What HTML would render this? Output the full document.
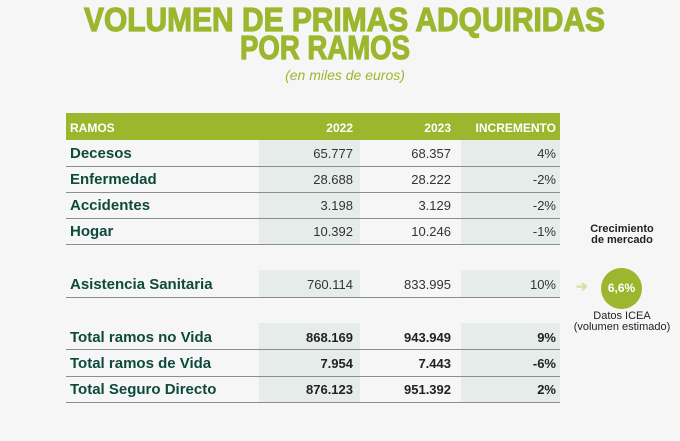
<!DOCTYPE html>
<html><head><meta charset="utf-8"><style>
body{margin:0;background:#f6f6f6;}
#w{position:relative;width:680px;height:441px;overflow:hidden;background:#f6f6f6;font-family:"Liberation Sans",sans-serif;}
.a{position:absolute;}
.shade{position:absolute;background:#e6ecea;}
.hd{position:absolute;left:66px;top:113px;width:494px;height:27px;background:#9cb62e;}
.line{position:absolute;left:66px;width:494px;height:1px;background:#8a8f8c;}
.lab{position:absolute;left:70px;font-weight:bold;color:#0e4a3c;font-size:15px;}
.n{position:absolute;color:#333;font-size:13px;text-align:right;}
.b{font-weight:bold;color:#222;}
.h{position:absolute;top:121px;color:#fff;font-weight:bold;font-size:12px;}
</style></head><body><div id="w">
<svg class="a" style="left:0;top:0" width="680" height="90">
<text x="84" y="31" textLength="521" lengthAdjust="spacingAndGlyphs" font-family="Liberation Sans" font-weight="bold" font-size="33" fill="#9cb62e" stroke="#9cb62e" stroke-width="1.2">VOLUMEN DE PRIMAS ADQUIRIDAS</text>
<text x="240" y="59" textLength="170" lengthAdjust="spacingAndGlyphs" font-family="Liberation Sans" font-weight="bold" font-size="33" fill="#9cb62e" stroke="#9cb62e" stroke-width="1.2">POR RAMOS</text>
<text x="345" y="80" text-anchor="middle" font-family="Liberation Sans" font-style="italic" font-size="14" fill="#9cb62e">(en miles de euros)</text>
</svg>
<div class="shade" style="left:259px;top:140px;width:101px;height:104px"></div>
<div class="shade" style="left:461px;top:140px;width:99px;height:104px"></div>
<div class="shade" style="left:259px;top:270px;width:101px;height:27px"></div>
<div class="shade" style="left:461px;top:270px;width:99px;height:27px"></div>
<div class="shade" style="left:259px;top:323px;width:101px;height:80px"></div>
<div class="shade" style="left:461px;top:323px;width:99px;height:80px"></div>
<div class="hd"></div>
<div class="h" style="left:70px">RAMOS</div>
<div class="h" style="left:300px;width:53px;text-align:right">2022</div>
<div class="h" style="left:400px;width:51px;text-align:right">2023</div>
<div class="h" style="left:470px;width:86px;text-align:right">INCREMENTO</div>
<div class="line" style="top:166px"></div><div class="line" style="top:192px"></div><div class="line" style="top:218px"></div><div class="line" style="top:244px"></div>
<div class="line" style="top:297px"></div><div class="line" style="top:349px"></div><div class="line" style="top:376px"></div><div class="line" style="top:402px"></div>

<div class="lab" style="top:145px">Decesos</div>
<div class="lab" style="top:171px">Enfermedad</div>
<div class="lab" style="top:197px">Accidentes</div>
<div class="lab" style="top:223px">Hogar</div>
<div class="lab" style="top:276px">Asistencia Sanitaria</div>
<div class="lab" style="top:329px">Total ramos no Vida</div>
<div class="lab" style="top:355px">Total ramos de Vida</div>
<div class="lab" style="top:381px">Total Seguro Directo</div>

<div class="n" style="left:260px;width:93px;top:146px">65.777</div>
<div class="n" style="left:360px;width:91px;top:146px">68.357</div>
<div class="n" style="left:462px;width:94px;top:146px">4%</div>
<div class="n" style="left:260px;width:93px;top:172px">28.688</div>
<div class="n" style="left:360px;width:91px;top:172px">28.222</div>
<div class="n" style="left:462px;width:94px;top:172px">-2%</div>
<div class="n" style="left:260px;width:93px;top:198px">3.198</div>
<div class="n" style="left:360px;width:91px;top:198px">3.129</div>
<div class="n" style="left:462px;width:94px;top:198px">-2%</div>
<div class="n" style="left:260px;width:93px;top:224px">10.392</div>
<div class="n" style="left:360px;width:91px;top:224px">10.246</div>
<div class="n" style="left:462px;width:94px;top:224px">-1%</div>
<div class="n" style="left:260px;width:93px;top:277px">760.114</div>
<div class="n" style="left:360px;width:91px;top:277px">833.995</div>
<div class="n" style="left:462px;width:94px;top:277px">10%</div>
<div class="n b" style="left:260px;width:93px;top:330px">868.169</div>
<div class="n b" style="left:360px;width:91px;top:330px">943.949</div>
<div class="n b" style="left:462px;width:94px;top:330px">9%</div>
<div class="n b" style="left:260px;width:93px;top:356px">7.954</div>
<div class="n b" style="left:360px;width:91px;top:356px">7.443</div>
<div class="n b" style="left:462px;width:94px;top:356px">-6%</div>
<div class="n b" style="left:260px;width:93px;top:382px">876.123</div>
<div class="n b" style="left:360px;width:91px;top:382px">951.392</div>
<div class="n b" style="left:462px;width:94px;top:382px">2%</div>

<div class="a" style="left:570px;top:224px;width:104px;text-align:center;font-weight:bold;font-size:11px;line-height:11px;color:#222">Crecimiento<br>de mercado</div>
<div class="a" style="left:576px;top:278px;color:#d4e3a4;font-size:14px;font-weight:bold">➔</div>
<div class="a" style="left:601px;top:268px;width:41px;height:41px;border-radius:50%;background:#9cb62e;color:#fff;font-weight:bold;font-size:12px;text-align:center;line-height:41px">6,6%</div>
<div class="a" style="left:560px;top:311px;width:124px;text-align:center;font-size:11px;line-height:11px;color:#222">Datos ICEA<br>(volumen estimado)</div>
</div></body></html>
